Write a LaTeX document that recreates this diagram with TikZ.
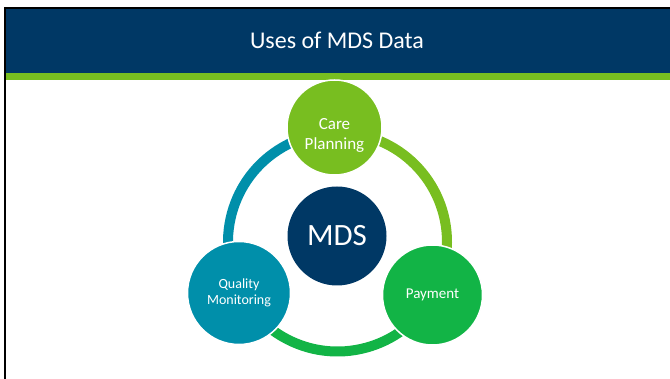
\documentclass[tikz,border=0pt]{standalone}
\usepackage{fontspec}
\setmainfont{Carlito}
\definecolor{mdsnavy}{HTML}{003865}
\definecolor{carelime}{HTML}{78BE20}
\definecolor{paygreen}{HTML}{12B446}
\definecolor{qualteal}{HTML}{008FAA}
\begin{document}
\begin{tikzpicture}[x=1pt, y=1pt,
    usecircle/.style={circle, inner sep=0pt, align=center, text=white, draw=white, line width=1.5pt},
    ringarc/.style={line width=10pt}]
    \useasboundingbox (0,0) rectangle (670,379);
    \fill [mdsnavy] (6,306.3) rectangle (670,370);
    \fill [carelime] (6,299) rectangle (670,306.3);
    \draw [line width=2pt] (5.3,0) -- (5.3,371) -- (670,371);
    \node [text=white, font=\fontsize{24}{28}\selectfont] (title) at (337,339) {Uses of MDS Data};

    \coordinate (hub) at (337.5,137);
    \draw [ringarc, carelime] (hub) ++(90:109.5) arc [start angle=90, end angle=-30, radius=109.5];
    \draw [ringarc, paygreen] (hub) ++(-30:109.5) arc [start angle=-30, end angle=-150, radius=109.5];
    \draw [ringarc, qualteal] (hub) ++(-150:109.5) arc [start angle=-150, end angle=-270, radius=109.5];

    \node [usecircle, fill=carelime, minimum size=95pt,
        label={[name=caretext, text=white, align=center, yshift=-8pt, font=\fontsize{17}{20}\selectfont]center:Care\\Planning}] (care) at (334.5,251.5) {};
    \node [usecircle, fill=paygreen, minimum size=100pt, font=\fontsize{15}{18}\selectfont] (pay) at (432.5,84) {Payment};
    \node [usecircle, fill=qualteal, minimum size=103pt, font=\fontsize{14}{16}\selectfont] (qual) at (239,86) {Quality\\Monitoring};
    \node [usecircle, fill=mdsnavy, draw=none, minimum size=99pt, font=\fontsize{31}{36}\selectfont] (mds) at (337,143) {MDS};
\end{tikzpicture}
\end{document}
